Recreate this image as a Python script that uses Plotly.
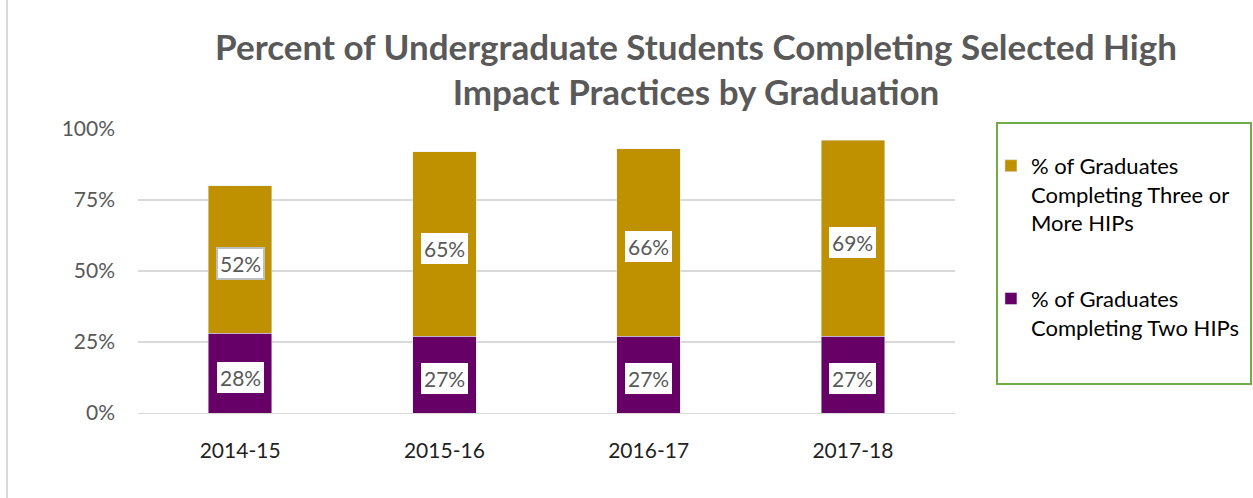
import plotly.graph_objects as go

years = ["2014-15", "2015-16", "2016-17", "2017-18"]
two_hips = [28, 27, 27, 27]
three_plus = [52, 65, 66, 69]
tick_vals = [0, 25, 50, 75, 100]
tick_text = ["0%", "25%", "50%", "75%", "100%"]

GOLD = "#BF9000"
PURPLE = "#660066"
FONT = "Lato"

fig = go.Figure()
fig.add_trace(go.Bar(x=years, y=two_hips, name="% of Graduates<br>Completing Two HIPs",
                     marker=dict(color=PURPLE), legendgroup="b", legendrank=2, hoverinfo="skip"))
fig.add_trace(go.Bar(x=years, y=three_plus, name="% of Graduates<br>Completing Three or<br>More HIPs",
                     marker=dict(color=GOLD), legendgroup="a", legendrank=1, hoverinfo="skip"))

annotations = []
for i, yr in enumerate(years):
    annotations.append(dict(x=yr, y=two_hips[i] / 2 - 1.5, text=f"{two_hips[i]}%", showarrow=False,
                            xref="x", yref="y", bgcolor="white", bordercolor="white", borderwidth=1,
                            borderpad=2, font=dict(family=FONT, size=21, color="#595959")))
    bordered = i == 0
    annotations.append(dict(x=yr, y=two_hips[i] + three_plus[i] / 2 - 1.5, text=f"{three_plus[i]}%",
                            showarrow=False, xref="x", yref="y", bgcolor="white",
                            bordercolor="#BFBFBF" if bordered else "white", borderwidth=2 if bordered else 1,
                            borderpad=2, font=dict(family=FONT, size=21, color="#595959")))

fig.update_layout(
    width=1253, height=498,
    margin=dict(l=138, r=298, t=129, b=85, autoexpand=False),
    paper_bgcolor="white", plot_bgcolor="white",
    barmode="stack", bargap=0.69,
    title=dict(text="Percent of Undergraduate Students Completing Selected High<br>Impact Practices by Graduation",
               x=696 / 1253, xanchor="center", y=1 - 59.5 / 498, yanchor="middle",
               font=dict(family=FONT, size=35, color="#595959", weight="bold")),
    font=dict(family=FONT, size=21, color="#595959"),
    xaxis=dict(showline=True, linecolor="#D9D9D9", linewidth=1, ticks="", ticklabelstandoff=19,
               tickfont=dict(family=FONT, size=21, color="#1F1F1F")),
    yaxis=dict(range=[0, 100], tickvals=tick_vals, ticktext=tick_text, showgrid=True,
               gridcolor="#D9D9D9", gridwidth=1.5, zeroline=False, showline=False,
               ticklabelstandoff=22, tickfont=dict(family=FONT, size=21, color="#595959")),
    legend=dict(x=1.044, y=0.944, xanchor="left", yanchor="top", traceorder="grouped", valign="top",
                tracegroupgap=44, font=dict(family=FONT, size=22, color="#000000"),
                bgcolor="rgba(0,0,0,0)", itemwidth=30),
    annotations=annotations,
    shapes=[
        dict(type="rect", xref="paper", yref="paper", x0=(997 - 138) / 817, x1=(1251 - 138) / 817,
             y0=(413 - 384) / 284, y1=(413 - 123) / 284, line=dict(color="#70AD47", width=2),
             fillcolor="rgba(0,0,0,0)"),
        dict(type="line", xref="paper", yref="paper", x0=(7 - 138) / 817, x1=(7 - 138) / 817,
             y0=(413 - 498) / 284, y1=(413 - 0) / 284, line=dict(color="#D9D9D9", width=2)),
    ],
)

fig.write_html("out.html", config={"displayModeBar": False},
               post_script="document.body.style.margin='0px';")
